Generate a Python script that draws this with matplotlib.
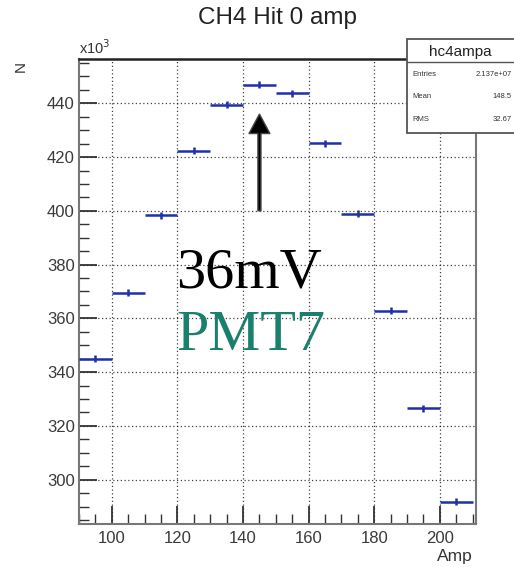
import numpy as np
import matplotlib
matplotlib.use("Agg")
import matplotlib.pyplot as plt
from matplotlib.ticker import MultipleLocator, FuncFormatter
from matplotlib.patches import Rectangle
from matplotlib.lines import Line2D

# histogram contents
bin_lo = [90, 100, 110, 120, 130, 140, 150, 160, 170, 180, 190, 200]
counts = [345000, 369500, 398300, 422300, 439500, 447000,
          443800, 425200, 399000, 362900, 326500, 291700]
errors = [1300, 1300, 1300, 1300, 1300, 1300,
          1300, 1300, 1300, 1300, 1300, 1300]
bin_width = 10

title = "CH4 Hit 0 amp"
stats_name = "hc4ampa"
stats_rows = [("Entries", "2.137e+07"), ("Mean", "148.5"), ("RMS", "32.67")]

plt.rcParams['font.family'] = ['Liberation Sans', 'DejaVu Sans']

fig = plt.figure(figsize=(5.14, 5.67), dpi=100)
ax = fig.add_axes([0.1537, 0.0758, 0.926 - 0.1537, 0.896 - 0.0758])

centers = np.array(bin_lo) + bin_width / 2.0
ax.errorbar(centers, counts, xerr=bin_width / 2.0, yerr=errors,
            fmt='none', ecolor='#1f30a8', elinewidth=1.8, capsize=0, zorder=3)

ax.set_xlim(90, 211)
ax.set_ylim(283500, 456500)

ax.xaxis.set_major_locator(MultipleLocator(20))
ax.xaxis.set_minor_locator(MultipleLocator(5))
ax.yaxis.set_major_locator(MultipleLocator(20000))
ax.yaxis.set_minor_locator(MultipleLocator(5000))
ax.yaxis.set_major_formatter(FuncFormatter(lambda v, p: "%d" % round(v / 1000)))

ax.tick_params(which='both', direction='in', top=False, right=False,
               labelsize=12, colors='#333333', labelcolor='#3a3a3a')
ax.tick_params(which='major', length=13, width=1.3)
ax.tick_params(which='minor', length=7, width=1.0)
ax.tick_params(axis='x', pad=5)
ax.tick_params(axis='y', pad=3)

ax.grid(True, which='major', linestyle=(0, (1, 2)), color='k', linewidth=0.9, alpha=0.75)

for side in ['left', 'bottom', 'right']:
    ax.spines[side].set_color('#777777')
    ax.spines[side].set_linewidth(1.5)
ax.spines['top'].set_color('#222222')
ax.spines['top'].set_linewidth(1.8)

ax.set_title(title, fontsize=17.5, color='#222222', pad=25)
fig.text(0.154, 0.899, r"x10$^3$", fontsize=10.5, color='#333333', ha='left', va='bottom')
fig.text(0.04, 0.882, "N", fontsize=11, rotation=90, color='#333333', ha='center', va='center')
fig.text(0.92, 0.019, "Amp", fontsize=12.5, color='#333333', ha='right', va='center')

# arrow and labels
ax.annotate('', xy=(145, 436000), xytext=(145, 400000),
            arrowprops=dict(width=2.2, headwidth=15, headlength=14,
                            facecolor='black', edgecolor='#444444', shrink=0))
ax.text(119.5, 371600, "36mV", fontsize=42, family='Liberation Serif',
        color='black', ha='left', va='baseline')
ax.text(119.8, 348200, "PMT7", fontsize=42, family='Liberation Serif',
        color='#1b7f6e', ha='left', va='baseline')

# stats box, running off the right edge like the original
bx0, by0, by1, bhead = 0.792, 0.765, 0.931, 0.891
box = Rectangle((bx0, by0), 0.25, by1 - by0, transform=fig.transFigure,
                facecolor='white', edgecolor='#555555', linewidth=1.3, zorder=5)
fig.add_artist(box)
fig.add_artist(Line2D([bx0, 1.0], [bhead, bhead], transform=fig.transFigure,
                      color='#555555', linewidth=1.0, zorder=6))
fig.text(0.895, 0.909, stats_name, fontsize=11, ha='center', va='center',
         color='#222222', zorder=7)
row_y = [0.868, 0.829, 0.790]
for (lab, val), yy in zip(stats_rows, row_y):
    fig.text(0.803, yy, lab, fontsize=5.5, ha='left', va='center', color='#333333', zorder=7)
    fig.text(0.995, yy, val, fontsize=5.5, ha='right', va='center', color='#333333', zorder=7)

fig.savefig("out.png", dpi=100)
